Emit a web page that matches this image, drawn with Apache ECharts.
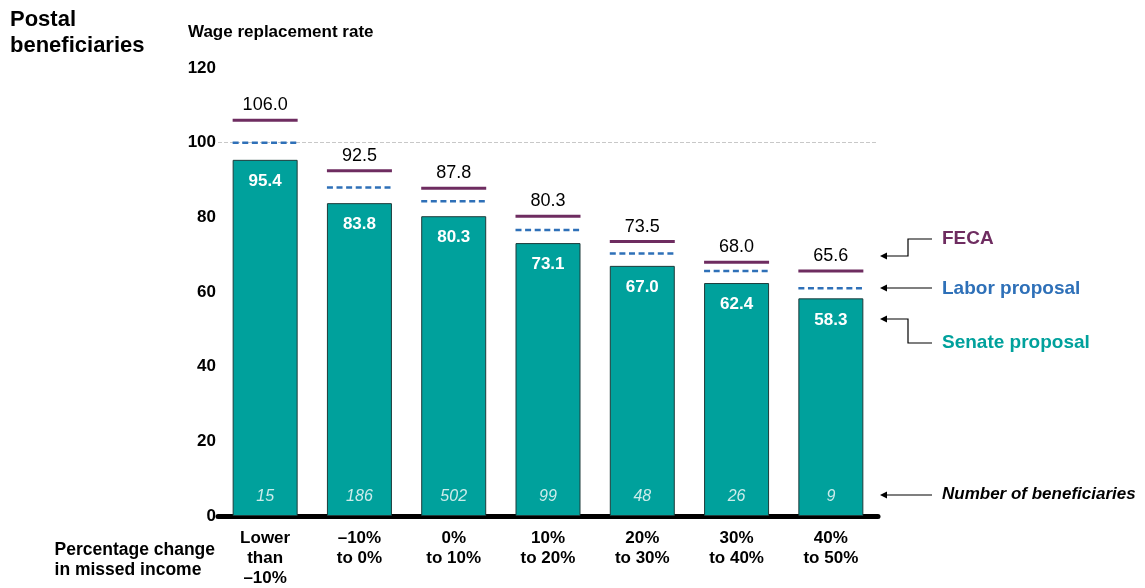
<!DOCTYPE html>
<html>
<head>
<meta charset="utf-8">
<script src="https://cdn.jsdelivr.net/npm/echarts@6/dist/echarts.min.js"></script>
<style>
  html, body { margin: 0; padding: 0; background: #fff; }
  #chart { width: 1145px; height: 588px; }
</style>
</head>
<body>
<div id="chart"></div>
<script>
// data
var categories = ['Lower\nthan\n\u201310%', '\u201310%\nto 0%', '0%\nto 10%', '10%\nto 20%', '20%\nto 30%', '30%\nto 40%', '40%\nto 50%'];
var senate = [95.4, 83.8, 80.3, 73.1, 67.0, 62.4, 58.3];
var labor = [100, 88.0, 84.3, 76.6, 70.3, 65.6, 61.0];
var feca = [106.0, 92.5, 87.8, 80.3, 73.5, 68.0, 65.6];
var beneficiaries = [15, 186, 502, 99, 48, 26, 9];
var yMin = 0, yMax = 120, yStep = 20;

var FONT = '"Liberation Sans", Arial, sans-serif';
var BAR_W = 65;
var TEAL = '#00A19C';
var PURPLE = '#6E2C60';
var BLUE = '#2E70B8';

function pairs(arr) {
    var out = [];
    for (var i = 0; i < arr.length; i++) out.push([i, arr[i]]);
    return out;
}

// short horizontal mark over each bar (FECA solid w/ label, Labor dashed)
function markRenderer(color, dashed, withLabel) {
    return function (params, api) {
        var p = api.coord([api.value(0), api.value(1)]);
        var children = [{
            type: 'line',
            shape: { x1: p[0] - BAR_W / 2, y1: p[1], x2: p[0] + BAR_W / 2, y2: p[1] },
            style: { stroke: color, lineWidth: dashed ? 2.5 : 3, lineDash: dashed ? [6, 3.6] : null }
        }];
        if (withLabel) {
            children.push({
                type: 'text',
                x: p[0], y: p[1] - 6,
                style: {
                    text: api.value(1).toFixed(1),
                    align: 'center', verticalAlign: 'bottom',
                    font: '18px ' + FONT, fill: '#000'
                }
            });
        }
        return { type: 'group', children: children };
    };
}

function arrowHead(x, y) {
    return { type: 'polygon', shape: { points: [[x, y], [x + 7, y - 3.5], [x + 7, y + 3.5]] }, style: { fill: '#000' } };
}
function wire(points) {
    return { type: 'polyline', shape: { points: points }, style: { stroke: '#000', lineWidth: 1.2, fill: null } };
}
function note(text, y, color, font) {
    return { type: 'text', left: 942, top: y - 9, style: { text: text, fill: color, font: font } };
}

var chart = echarts.init(document.getElementById('chart'));

chart.setOption({
    animation: false,
    grid: { left: 218, right: 267, top: 68, bottom: 69 },
    xAxis: {
        type: 'category',
        data: categories,
        axisLine: { lineStyle: { color: '#000', width: 5 } },
        axisTick: { show: false },
        axisLabel: { color: '#000', fontFamily: FONT, fontWeight: 'bold', fontSize: 17, lineHeight: 20, margin: 12, interval: 0 }
    },
    yAxis: {
        type: 'value',
        min: yMin, max: yMax, interval: yStep,
        axisLine: { show: false },
        axisTick: { show: false },
        splitLine: { show: false },
        axisLabel: { color: '#000', fontFamily: FONT, fontWeight: 'bold', fontSize: 17, margin: 2 }
    },
    series: [
        {
            name: 'Senate proposal',
            type: 'bar',
            data: senate,
            barWidth: BAR_W,
            itemStyle: { color: TEAL, borderColor: '#1d3b3a', borderWidth: 1 },
            label: {
                show: true, position: 'insideTop', distance: 13,
                color: '#fff', fontFamily: FONT, fontWeight: 'bold', fontSize: 17,
                formatter: function (p) { return p.value.toFixed(1); }
            },
            markLine: {
                silent: true, symbol: 'none', label: { show: false },
                lineStyle: { type: 'dashed', color: '#c8c8c8', width: 1 },
                data: [{ yAxis: 100 }],
                z: 1
            },
            z: 2
        },
        {
            name: 'Number of beneficiaries',
            type: 'scatter',
            data: pairs(beneficiaries).map(function (d) { return [d[0], 0, d[1]]; }),
            symbolSize: 0,
            label: {
                show: true, position: 'top', distance: 11,
                color: '#fff', fontFamily: FONT, fontStyle: 'italic', fontSize: 16,
                formatter: function (p) { return p.value[2]; }
            },
            z: 3
        },
        {
            name: 'Labor proposal',
            type: 'custom',
            data: pairs(labor),
            renderItem: markRenderer(BLUE, true, false),
            z: 5
        },
        {
            name: 'FECA',
            type: 'custom',
            data: pairs(feca),
            renderItem: markRenderer(PURPLE, false, true),
            z: 5
        }
    ],
    graphic: [
        { type: 'text', left: 10, top: 7, style: { text: 'Postal\nbeneficiaries', font: 'bold 22px ' + FONT, lineHeight: 26, fill: '#000' } },
        { type: 'text', left: 188, top: 24, style: { text: 'Wage replacement rate', font: 'bold 17px ' + FONT, fill: '#000' } },
        { type: 'text', right: 930, top: 540, style: { text: 'Percentage change\nin missed income', font: 'bold 17.5px ' + FONT, lineHeight: 20, align: 'right', fill: '#000' } },

        note('FECA', 238, PURPLE, 'bold 19px ' + FONT),
        wire([[932, 239], [908, 239], [908, 256], [884, 256]]),
        arrowHead(880, 256),

        note('Labor proposal', 288, BLUE, 'bold 19px ' + FONT),
        wire([[932, 288], [884, 288]]),
        arrowHead(880, 288),

        note('Senate proposal', 342, TEAL, 'bold 19px ' + FONT),
        wire([[932, 343], [908, 343], [908, 319], [884, 319]]),
        arrowHead(880, 319),

        note('Number of beneficiaries', 495, '#000', 'italic bold 17px ' + FONT),
        wire([[932, 495], [884, 495]]),
        arrowHead(880, 495)
    ]
});
</script>
</body>
</html>
